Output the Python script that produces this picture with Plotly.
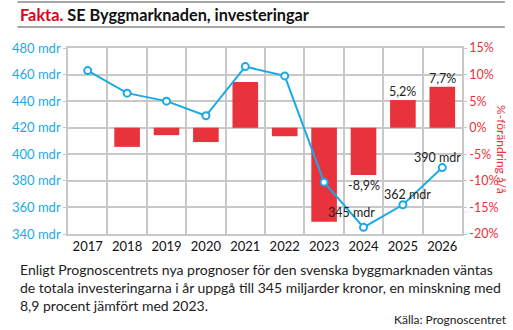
import plotly.graph_objects as go

# Byggmarknaden: investeringar (mdr kr) och förändring år/år (%)
years = ["2017", "2018", "2019", "2020", "2021", "2022", "2023", "2024", "2025", "2026"]
invest_mdr = [463, 446, 440, 429, 466, 459, 379, 345, 362, 390]
change_pct = [None, -3.6, -1.4, -2.7, 8.6, -1.6, -17.7, -8.9, 5.2, 7.7]

# which points / bars carry a value label (pixel offsets)
line_labels = {"2024": (-12, 15), "2025": (5, 10), "2026": (-5, 10)}
bar_labels = ["2024", "2025", "2026"]

left_ticks = [340, 360, 380, 400, 420, 440, 460, 480]
right_ticks = [-20, -15, -10, -5, 0, 5, 10, 15]

BLUE = "#1ca9e6"
RED = "#e8323c"
GRID = "#c8c8c8"
FONT = "Lato"

W, H = 513, 330
L, R, T, B = 57, 462, 48, 234

xpos = list(range(len(years)))
bounds = [i - 0.5 for i in range(len(years) + 1)]


def px(X):
    return (X - L) / (R - L)


def py(Y):
    return (B - Y) / (B - T)


fig = go.Figure()

fig.add_trace(go.Bar(
    x=xpos, y=change_pct, yaxis="y",
    marker=dict(color=RED, line=dict(width=0)),
    width=0.65, hoverinfo="skip",
))

fig.add_trace(go.Scatter(
    x=xpos, y=invest_mdr, yaxis="y2", mode="lines+markers",
    line=dict(color=BLUE, width=2),
    marker=dict(symbol="circle", size=7, color="white",
                line=dict(color=BLUE, width=2)),
    hoverinfo="skip",
))

annotations = []

# line value labels
for yr, (dx, dy) in line_labels.items():
    i = years.index(yr)
    v = invest_mdr[i]
    annotations.append(dict(
        x=i, y=v, xref="x", yref="y2", text=f"{v} mdr", showarrow=False,
        xshift=dx, yshift=dy, font=dict(family=FONT, size=12.5, color="#222"),
    ))

# bar value labels
for yr in bar_labels:
    i = years.index(yr)
    v = change_pct[i]
    txt = f"{v:.1f}%".replace(".", ",")
    annotations.append(dict(
        x=i, y=v, xref="x", yref="y", text=txt, showarrow=False,
        yanchor="top" if v < 0 else "bottom", yshift=-1,
        font=dict(family=FONT, size=12.5, color="#222"),
    ))

# right axis title
annotations.append(dict(
    x=px(503), y=py(150), xref="paper", yref="paper", text="%-förändring å/å",
    textangle=90, showarrow=False, xanchor="center", yanchor="middle",
    font=dict(family=FONT, size=12, color=RED),
))

# heading
annotations.append(dict(
    x=px(6), y=py(15), xref="paper", yref="paper",
    text="<b><span style='color:#e2001a'>Fakta.</span> SE Byggmarknaden, investeringar</b>",
    showarrow=False, xanchor="left", yanchor="middle",
    font=dict(family=FONT, size=16.3, color="#111"),
))

# caption
annotations.append(dict(
    x=px(6), y=py(259), xref="paper", yref="paper",
    text=("Enligt Prognoscentrets nya prognoser för den svenska byggmarknaden väntas<br>"
          "de totala investeringarna i år uppgå till 345 miljarder kronor, en minskning med<br>"
          "8,9 procent jämfört med 2023."),
    showarrow=False, xanchor="left", yanchor="top", align="left",
    font=dict(family=FONT, size=14, color="#222"),
))

annotations.append(dict(
    x=px(510), y=py(329), xref="paper", yref="paper", text="Källa: Prognoscentret",
    showarrow=False, xanchor="right", yanchor="bottom",
    font=dict(family=FONT, size=12, color="#222"),
))

shapes = [
    dict(type="line", xref="paper", yref="paper", x0=px(5), x1=px(506),
         y0=py(2), y1=py(2), line=dict(color="#888", width=1.5)),
    dict(type="line", xref="paper", yref="paper", x0=px(5), x1=px(506),
         y0=py(27), y1=py(27), line=dict(color="#888", width=1.5)),
]

fig.update_layout(
    width=W, height=H,
    margin=dict(l=L, r=W - R, t=T, b=H - B, pad=0),
    paper_bgcolor="white", plot_bgcolor="white",
    showlegend=False,
    font=dict(family=FONT, size=12, color="#222"),
    xaxis=dict(
        range=[-0.5, len(years) - 0.5], tickvals=xpos, ticktext=years,
        showgrid=False, ticks="", zeroline=False,
        showline=True, mirror=True, linecolor=GRID, linewidth=1.5,
        tickfont=dict(family=FONT, size=13, color="#111"),
        minor=dict(tickvals=bounds, showgrid=True, gridcolor=GRID,
                   gridwidth=1.5, ticks=""),
    ),
    yaxis=dict(
        side="right", range=[-20, 15], tickvals=right_ticks,
        ticktext=[f"{t}%" for t in right_ticks],
        showgrid=True, gridcolor=GRID, gridwidth=1.5, zeroline=False,
        showline=True, linecolor=GRID, linewidth=1.5,
        ticks="outside", ticklen=3, tickcolor=GRID,
        tickfont=dict(family=FONT, size=12.5, color=RED),
    ),
    yaxis2=dict(
        side="left", overlaying="y", range=[340, 480], tickvals=left_ticks,
        ticktext=[f"{t} mdr" for t in left_ticks],
        showgrid=False, zeroline=False, showline=True, linecolor=GRID,
        linewidth=1.5, ticks="outside", ticklen=3, tickcolor=GRID,
        tickfont=dict(family=FONT, size=13, color=BLUE),
    ),
    annotations=annotations,
    shapes=shapes,
)

fig.write_html("out.html")
